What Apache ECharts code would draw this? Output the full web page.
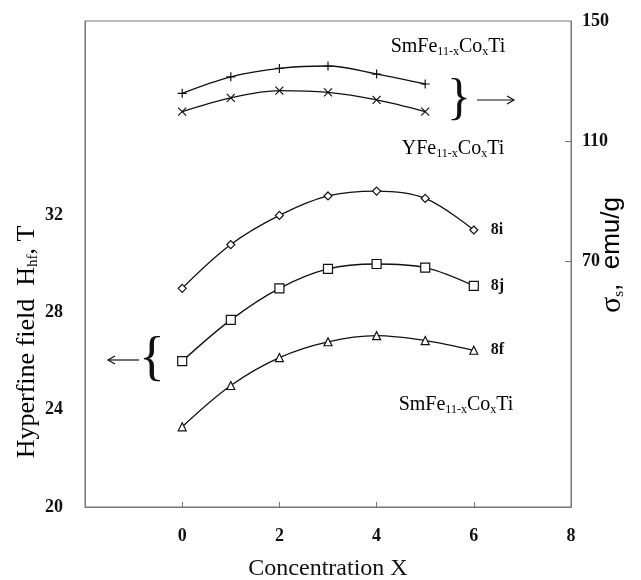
<!DOCTYPE html>
<html>
<head>
<meta charset="utf-8">
<script src="https://cdn.jsdelivr.net/npm/echarts@6/dist/echarts.min.js"></script>
<style>
  html, body { margin: 0; padding: 0; background: #fff; }
  #chart { width: 641px; height: 580px; }
</style>
</head>
<body>
<div id="chart"></div>
<script>
// concentration x
const xFull = [0, 1, 2, 3, 4, 5, 6]
const xMag = [0, 1, 2, 3, 4, 5]
// hyperfine field, T (left axis)
const h8i = [29.0, 30.8, 32.0, 32.8, 33.0, 32.7, 31.4]
const h8j = [26.0, 27.7, 29.0, 29.8, 30.0, 29.85, 29.1]
const h8f = [23.3, 25.0, 26.15, 26.8, 27.05, 26.85, 26.45]
// magnetization, emu/g (right axis)
const sSm = [125.9, 131.4, 134.2, 135.0, 132.3, 129.0]
const sY = [119.8, 124.4, 126.8, 126.2, 123.7, 119.8]
// tick labels
const xTicks = [0, 2, 4, 6, 8]
const leftTicks = [20, 24, 28, 32]
const rightTicks = [70, 110, 150]

const serif = 'Liberation Serif'
const ink = '#111'
const frame = '#777'

const pairs = (xs, ys) => xs.map((x, i) => [x, ys[i]])

const subRich = {
  n: { fontFamily: serif, fontSize: 20, lineHeight: 22, color: ink },
  s: { fontFamily: serif, fontSize: 12, lineHeight: 12, verticalAlign: 'bottom', color: ink }
}
const formula = (el) => `{n|${el}Fe}{s|11-x}{n|Co}{s|x}{n|Ti}`

const plus = 'path://M5,0L5,10M0,5L10,5'
const cross = 'path://M0,0L10,10M10,0L0,10'

function lineSeries(name, data, yAxisIndex, symbol, size, label) {
  const s = {
    name,
    type: 'line',
    data,
    yAxisIndex,
    smooth: 0.35,
    symbol,
    symbolSize: size,
    showSymbol: true,
    lineStyle: { color: ink, width: 1.3 },
    itemStyle: { color: '#fff', borderColor: ink, borderWidth: 1.2 },
    emphasis: { disabled: true },
    z: 3
  }
  if (label) {
    s.endLabel = {
      show: true,
      formatter: label,
      distance: 17,
      fontFamily: serif,
      fontWeight: 'bold',
      fontSize: 16,
      color: ink
    }
  }
  return s
}

const chart = echarts.init(document.getElementById('chart'), null, { renderer: 'canvas' })

chart.setOption({
  animation: false,
  backgroundColor: '#fff',
  grid: {
    left: 85,
    right: 70,
    top: 21,
    bottom: 73,
    outerBoundsMode: 'none',
    containLabel: false,
    show: true,
    borderColor: frame,
    borderWidth: 1
  },
  xAxis: {
    type: 'value',
    min: -2,
    max: 8,
    interval: 2,
    name: 'Concentration X',
    nameLocation: 'middle',
    nameGap: 50,
    nameTextStyle: { fontFamily: serif, fontSize: 24, color: ink },
    axisLine: { onZero: false, lineStyle: { color: frame } },
    axisTick: { inside: true, length: 5, lineStyle: { color: frame }, customValues: [0, 2, 4, 6] },
    axisLabel: {
      customValues: xTicks,
      margin: 20,
      fontFamily: serif,
      fontWeight: 'bold',
      fontSize: 18,
      color: ink
    },
    splitLine: { show: false }
  },
  yAxis: [
    {
      type: 'value',
      min: 20,
      max: 40,
      axisLine: { show: true, onZero: false, lineStyle: { color: frame } },
      axisTick: { show: false },
      axisLabel: {
        customValues: leftTicks,
        margin: 22,
        fontFamily: serif,
        fontWeight: 'bold',
        fontSize: 18,
        color: ink
      },
      splitLine: { show: false }
    },
    {
      type: 'value',
      position: 'right',
      min: -12,
      max: 150,
      axisLine: { show: true, onZero: false, lineStyle: { color: frame } },
      axisTick: { show: true, inside: true, length: 6, lineStyle: { color: frame }, customValues: [70, 110] },
      axisLabel: {
        customValues: rightTicks,
        margin: 11,
        fontFamily: serif,
        fontWeight: 'bold',
        fontSize: 18,
        color: ink
      },
      splitLine: { show: false }
    }
  ],
  series: [
    lineSeries('8i', pairs(xFull, h8i), 0, 'diamond', 8, '8i'),
    lineSeries('8j', pairs(xFull, h8j), 0, 'rect', 9, '8j'),
    lineSeries('8f', pairs(xFull, h8f), 0, 'triangle', 8, '8f'),
    lineSeries('SmFe', pairs(xMag, sSm), 1, plus, 9, null),
    lineSeries('YFe', pairs(xMag, sY), 1, cross, 8, null)
  ],
  graphic: [
    {
      type: 'text', x: 27, y: 342, rotation: Math.PI / 2,
      style: {
        text: '{n|Hyperfine field  H}{s|hf}{n|, T}',
        align: 'center',
        verticalAlign: 'middle',
        rich: {
          n: { fontFamily: serif, fontSize: 26, lineHeight: 28, color: ink },
          s: { fontFamily: serif, fontSize: 15, lineHeight: 15, verticalAlign: 'bottom', color: ink }
        }
      }
    },
    {
      type: 'text', x: 612, y: 255, rotation: Math.PI / 2,
      style: {
        text: '{g|σ}{s|s}{t|,  emu/g}',
        align: 'center',
        verticalAlign: 'middle',
        rich: {
          g: { fontFamily: serif, fontSize: 30, lineHeight: 30, color: ink },
          s: { fontFamily: serif, fontSize: 15, lineHeight: 15, verticalAlign: 'bottom', color: ink },
          t: { fontFamily: 'Liberation Sans', fontSize: 26, lineHeight: 30, color: ink }
        }
      }
    },
    {
      type: 'text', x: 448, y: 47,
      style: { text: formula('Sm'), rich: subRich, align: 'center', verticalAlign: 'middle' }
    },
    {
      type: 'text', x: 453, y: 149,
      style: { text: formula('Y'), rich: subRich, align: 'center', verticalAlign: 'middle' }
    },
    {
      type: 'text', x: 456, y: 405,
      style: { text: formula('Sm'), rich: subRich, align: 'center', verticalAlign: 'middle' }
    },
    {
      type: 'text', x: 459, y: 100,
      style: { text: '}', fontFamily: serif, fontSize: 50, fill: ink, align: 'center', verticalAlign: 'middle' }
    },
    {
      type: 'text', x: 152, y: 360,
      style: { text: '{', fontFamily: serif, fontSize: 54, fill: ink, align: 'center', verticalAlign: 'middle' }
    },
    {
      type: 'line', shape: { x1: 477, y1: 100, x2: 514, y2: 100 },
      style: { stroke: ink, lineWidth: 1.2 }
    },
    {
      type: 'polyline', shape: { points: [[507, 96], [514, 100], [507, 104]] },
      style: { stroke: ink, lineWidth: 1.2, fill: null }
    },
    {
      type: 'line', shape: { x1: 139, y1: 360, x2: 108, y2: 360 },
      style: { stroke: ink, lineWidth: 1.2 }
    },
    {
      type: 'polyline', shape: { points: [[115, 356], [108, 360], [115, 364]] },
      style: { stroke: ink, lineWidth: 1.2, fill: null }
    }
  ]
})
</script>
</body>
</html>
